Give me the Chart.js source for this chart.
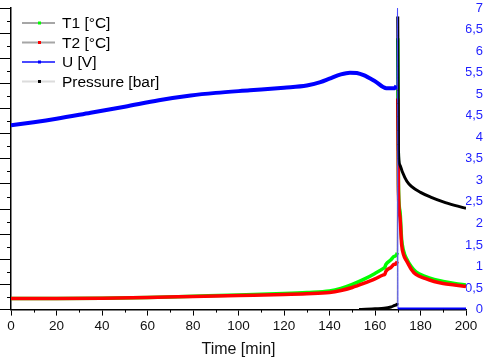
<!DOCTYPE html>
<html>
<head>
<meta charset="utf-8">
<script src="https://cdn.jsdelivr.net/npm/chart.js@4.4.0/dist/chart.umd.min.js"></script>
<style>
    html, body { margin: 0; padding: 0; background: #fff; }
    #wrap { width: 485px; height: 360px; }
</style>
</head>
<body>
<div id="wrap"><canvas id="chart" width="485" height="360"></canvas></div>
<script>
// temperatures, left axis [°C]
const timeT = [0, 20, 40, 60, 80, 100, 120, 130, 140, 145, 150, 155, 160, 163.7, 164.3, 164.8, 167, 168.5, 169.8, 170,
    170.3, 171, 171.7, 172.5, 174, 176, 178, 182, 186, 190, 195, 200];
const t1Values = [22, 22, 22.5, 24, 26.5, 29, 32, 34, 37, 42, 50, 60, 72, 82, 84, 90, 99, 106, 113, 540,
    250, 195, 140, 118, 100, 85, 75, 66, 60, 56, 52, 49];
const t2Values = [22, 22, 22.5, 24, 26, 28, 30, 31.5, 34, 38, 44, 52, 61, 69, 70, 76, 84, 90, 96, 420,
    236, 183, 130, 110, 96, 80, 70, 62, 56, 52, 49, 46];

// voltage, right axis
const timeU = [0, 10, 20, 35, 50, 65, 79, 90, 105, 120, 130, 136, 140, 145, 149, 152, 155, 160, 165, 168.8,
    169.4, 169.7, 169.9, 170.1, 200];
const uValues = [4.28, 4.35, 4.43, 4.57, 4.71, 4.86, 4.97, 5.03, 5.09, 5.15, 5.2, 5.28, 5.36, 5.46, 5.5, 5.49,
    5.44, 5.3, 5.14, 5.14, 5.2, 5.36, 7.0, 0, 0];

// pressure, right axis
const timeP = [153, 156, 160, 164, 167, 169, 169.8, 170, 170.3, 171, 172, 174, 176, 180, 185, 190, 195, 200];
const pValues = [0, 0.01, 0.02, 0.03, 0.06, 0.1, 0.15, 6.8, 3.7, 3.35, 3.2, 2.98, 2.86, 2.72, 2.6, 2.5, 2.42, 2.35];

const xTicks = {min: 0, max: 200, step: 20};
const tempTicks = {min: 0, max: 600, step: 50};
const rightTicks = {min: 0, max: 7, step: 0.5};

const toPoints = (xs, ys) => xs.map((x, i) => ({x, y: ys[i]}));

// fast sampling around the pressure peak -> thin connecting line
const isSpike = ctx => ctx.p1.parsed.x - ctx.p0.parsed.x <= 0.3;

const makeSet = (label, xs, ys, color, width, axis, order, thinColor, legendLine) => ({
    label,
    data: toPoints(xs, ys),
    yAxisID: axis,
    borderColor: color,
    borderWidth: width,
    pointRadius: 0,
    cubicInterpolationMode: 'monotone',
    order,
    legendLine,
    segment: {
        borderWidth: ctx => isSpike(ctx) ? 1 : width,
        borderColor: ctx => isSpike(ctx) ? thinColor : color
    }
});

const font = 'Liberation Sans, Arial, sans-serif';

// legend drawn in the upper left corner of the plot
const legendBox = {
    id: 'legendBox',
    afterDatasetsDraw(chart) {
        const {ctx} = chart;
        ctx.save();
        chart.data.datasets.forEach((ds, i) => {
            const y = 23 + i * 19.5;
            ctx.strokeStyle = ds.legendLine;
            ctx.lineWidth = 2;
            ctx.beginPath();
            ctx.moveTo(22, y);
            ctx.lineTo(55, y);
            ctx.stroke();
            ctx.fillStyle = ds.borderColor;
            ctx.fillRect(38, y - 1.5, 3, 3);
            ctx.fillStyle = '#000';
            ctx.font = '15.5px ' + font;
            ctx.textBaseline = 'middle';
            ctx.fillText(ds.label, 62, y + 1);
        });
        ctx.restore();
    }
};

// short minor ticks between the labelled ones
const minorTicks = {
    id: 'minorTicks',
    afterDraw(chart) {
        const {ctx, scales: {x, yT}} = chart;
        ctx.save();
        ctx.strokeStyle = '#000';
        ctx.lineWidth = 1;
        ctx.beginPath();
        for (let v = xTicks.min + xTicks.step / 2; v < xTicks.max; v += xTicks.step) {
            const px = Math.round(x.getPixelForValue(v)) + 0.5;
            ctx.moveTo(px, x.top);
            ctx.lineTo(px, x.top + 3);
        }
        for (let v = tempTicks.min + tempTicks.step / 2; v < tempTicks.max; v += tempTicks.step) {
            const py = Math.round(yT.getPixelForValue(v)) + 0.5;
            ctx.moveTo(yT.right - 4, py);
            ctx.lineTo(yT.right, py);
        }
        ctx.stroke();
        ctx.restore();
    }
};

new Chart(document.getElementById('chart'), {
    type: 'line',
    data: {
        datasets: [
            makeSet('T1 [°C]', timeT, t1Values, '#00ff00', 3.5, 'yT', 3, '#8c8c8c', '#a6a6a6'),
            makeSet('T2 [°C]', timeT, t2Values, '#ff0000', 3.5, 'yT', 2, '#8c8c8c', '#a6a6a6'),
            makeSet('U [V]', timeU, uValues, '#0000ff', 4, 'yR', 0, '#4a4aff', '#4a4aff'),
            makeSet('Pressure [bar]', timeP, pValues, '#000000', 3, 'yR', 1, '#8c8c8c', '#dcdcdc')
        ]
    },
    options: {
        responsive: false,
        animation: false,
        layout: {padding: {top: 8, right: 2, bottom: 1, left: 0}},
        plugins: {legend: {display: false}, tooltip: {enabled: false}},
        scales: {
            x: {
                type: 'linear',
                min: xTicks.min,
                max: xTicks.max,
                border: {color: '#000', width: 1.5},
                grid: {drawOnChartArea: false, tickLength: 6, tickColor: '#000'},
                ticks: {stepSize: xTicks.step, padding: 3, color: '#111', font: {family: font, size: 13.5}},
                title: {display: true, text: 'Time [min]', color: '#111', font: {family: font, size: 16}, padding: {top: 2, bottom: 0}}
            },
            yT: {
                position: 'left',
                min: tempTicks.min,
                max: tempTicks.max,
                border: {color: '#000', width: 1.5},
                grid: {drawOnChartArea: false, tickLength: 11, tickColor: '#000'},
                ticks: {stepSize: tempTicks.step, display: false}
            },
            yR: {
                position: 'right',
                min: rightTicks.min,
                max: rightTicks.max,
                border: {display: false},
                grid: {display: false},
                afterFit: scale => { scale.width = 17; },
                ticks: {
                    stepSize: rightTicks.step,
                    padding: 0,
                    crossAlign: 'far',
                    color: '#1f1fff',
                    font: {family: font, size: 13},
                    callback: v => String(v).replace('.', ',')
                }
            }
        }
    },
    plugins: [legendBox, minorTicks]
});
</script>
</body>
</html>
